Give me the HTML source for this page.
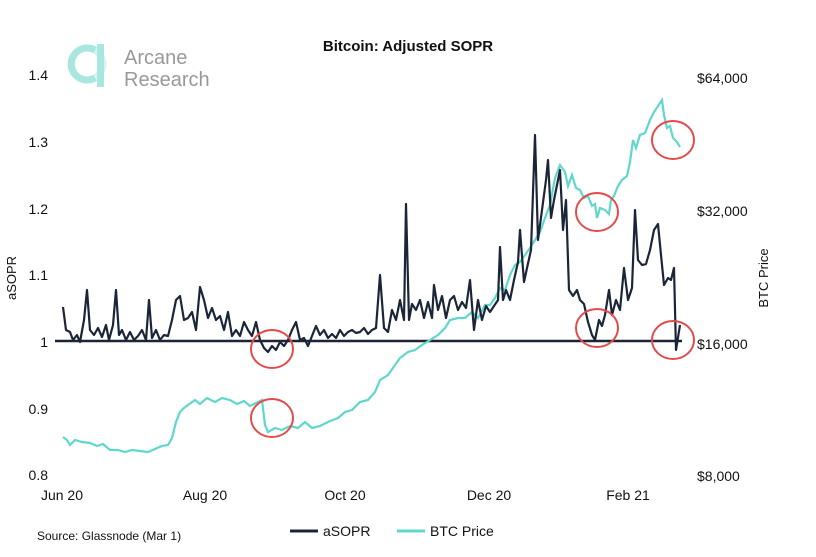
<!DOCTYPE html>
<html><head><meta charset="utf-8"><style>
body{margin:0;background:#fff;}
svg{display:block;font-family:"Liberation Sans",sans-serif;}
</style></head><body>
<svg width="816" height="557" viewBox="0 0 816 557">
<rect width="816" height="557" fill="#fff"/>
<!-- logo -->
<circle cx="87" cy="64" r="16" fill="none" stroke="#d6f4f0" stroke-width="7"/>
<path d="M95 50 A16 16 0 1 0 95 78" fill="none" stroke="#a8e6df" stroke-width="7"/>
<rect x="97" y="44" width="7" height="43" fill="#a8e6df"/>
<text x="124" y="64" font-size="20" fill="#999">Arcane</text>
<text x="124" y="86" font-size="20" fill="#999">Research</text>
<text x="408" y="51" font-size="15" font-weight="bold" text-anchor="middle" fill="#111">Bitcoin: Adjusted SOPR</text>
<!-- left axis -->
<g font-size="14" fill="#111" text-anchor="end">
<text x="48" y="80">1.4</text><text x="48" y="147">1.3</text><text x="48" y="214">1.2</text>
<text x="48" y="280">1.1</text><text x="48" y="347">1</text><text x="48" y="414">0.9</text><text x="48" y="480">0.8</text>
</g>
<text transform="translate(16,278) rotate(-90)" font-size="13" text-anchor="middle" fill="#111">aSOPR</text>
<g font-size="14" fill="#111">
<text x="697" y="83">$64,000</text><text x="697" y="216">$32,000</text><text x="697" y="349">$16,000</text><text x="697" y="481">$8,000</text>
</g>
<text transform="translate(768,278) rotate(-90)" font-size="13" text-anchor="middle" fill="#111">BTC Price</text>
<g font-size="14" fill="#111" text-anchor="middle">
<text x="62" y="500">Jun 20</text><text x="205" y="500">Aug 20</text><text x="345" y="500">Oct 20</text><text x="489" y="500">Dec 20</text><text x="628" y="500">Feb 21</text>
</g>
<line x1="55" y1="341" x2="682" y2="341" stroke="#1c2536" stroke-width="2.5"/>
<!-- BTC -->
<polyline fill="none" stroke="#5fd8cb" stroke-width="2.2" points="63,437 67,440 70,445 75,440 82,442 90,443 97,446 103,444 110,450 118,450 125,452 132,450 140,451 148,452 155,449 162,446 168,445 172,438 176,422 180,412 184,408 188,405 195,400 200,404 207,398 215,402 222,398 230,400 237,404 244,401 250,406 258,402 262,400 265,425 268,432 275,428 282,430 290,426 298,428 305,422 312,428 320,426 330,421 338,418 345,412 352,410 360,402 368,400 375,392 380,380 388,375 395,365 400,358 408,352 415,350 422,345 430,340 438,335 445,328 450,320 458,318 465,318 472,312 478,318 485,305 490,305 495,298 500,288 505,290 510,275 515,265 520,262 525,255 530,248 535,240 540,232 545,218 550,205 555,178 560,165 565,172 568,186 572,175 576,188 580,190 584,198 588,196 592,206 595,204 597,218 600,208 605,210 609,214 611,200 614,196 618,186 622,180 627,176 630,162 633,140 636,148 640,135 645,133 650,120 654,112 658,106 662,100 664,115 667,128 670,126 673,138 677,142 680,147"/>
<!-- aSOPR -->
<polyline fill="none" stroke="#1b2538" stroke-width="2.2" stroke-linejoin="round" points="63,307 66,330 70,332 73,340 77,335 80,342 84,320 87,290 90,330 94,335 98,328 102,337 106,325 109,340 113,325 116,290 119,335 122,330 126,340 130,332 134,340 138,336 142,330 146,340 149,300 152,338 156,330 160,340 164,335 168,336 172,320 176,300 180,296 184,320 188,318 192,312 196,330 200,287 204,300 208,318 212,308 216,320 220,316 224,330 228,312 232,336 236,330 240,336 244,322 248,330 252,336 256,322 260,340 264,348 268,352 272,346 276,350 280,342 284,346 288,340 292,330 296,322 300,340 304,338 308,346 312,336 316,326 320,335 324,330 328,338 332,334 336,338 340,330 344,336 348,332 352,330 356,333 360,332 364,328 368,334 372,330 376,328 380,275 384,328 388,332 392,310 396,320 400,300 404,320 406,204 409,320 412,304 416,310 420,300 424,318 428,302 432,318 434,285 438,310 442,296 446,318 450,300 454,296 458,310 462,302 466,308 470,280 474,330 478,300 482,320 486,306 490,312 494,306 498,300 500,247 503,300 506,290 510,300 514,280 518,262 520,230 524,282 527,268 531,250 535,135 538,240 542,210 546,180 548,160 551,218 554,200 557,185 560,170 563,230 566,200 569,290 573,296 577,290 580,300 584,304 588,322 592,335 595,340 599,320 602,326 605,315 609,290 612,315 616,300 620,310 624,268 628,300 632,288 635,210 638,260 642,265 646,264 650,250 654,230 658,224 661,255 664,285 668,278 671,280 674,268 676,350 680,325"/>
<!-- circles -->
<g fill="none" stroke="#e34b4b" stroke-width="2">
<ellipse cx="272" cy="349" rx="21" ry="19"/>
<ellipse cx="272" cy="418" rx="21" ry="19"/>
<ellipse cx="597" cy="212" rx="21" ry="19"/>
<ellipse cx="597" cy="328" rx="21" ry="19"/>
<ellipse cx="673" cy="140" rx="21" ry="19"/>
<ellipse cx="673" cy="340" rx="21" ry="19"/>
</g>
<!-- legend -->
<line x1="290" y1="531" x2="318" y2="531" stroke="#1b2538" stroke-width="3"/>
<text x="323" y="536" font-size="14" fill="#111">aSOPR</text>
<line x1="397" y1="531" x2="425" y2="531" stroke="#5fd8cb" stroke-width="3"/>
<text x="430" y="536" font-size="14" fill="#111">BTC Price</text>
<text x="37" y="540" font-size="12" fill="#111">Source: Glassnode (Mar 1)</text>
</svg>
</body></html>
